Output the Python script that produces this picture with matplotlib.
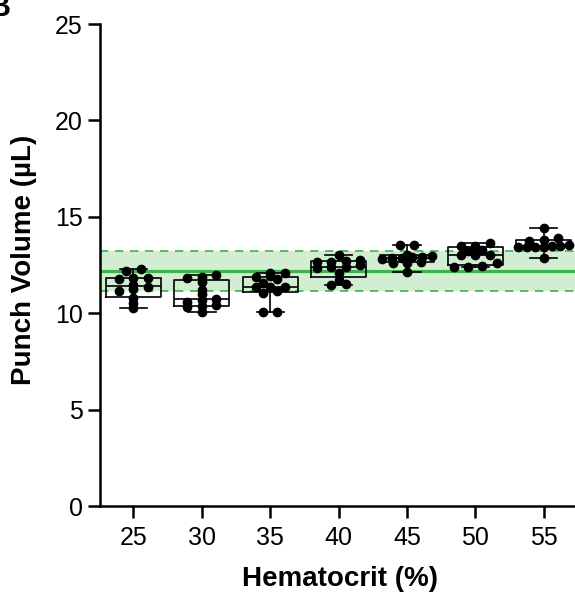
import numpy as np
import matplotlib
matplotlib.use("Agg")
import matplotlib.pyplot as plt

plt.rcParams['font.family'] = ['Liberation Sans', 'DejaVu Sans']

# punch volume (uL) per hematocrit level
hematocrit = ['25', '30', '35', '40', '45', '50', '55']
hct_25 = [12.20, 12.28, 11.84, 11.77, 11.84, 11.46, 11.34, 11.24, 11.15, 10.77, 10.51, 10.27]
hct_30 = [11.98, 11.89, 11.85, 11.64, 11.18, 10.97, 10.74, 10.71, 10.58, 10.40, 10.35, 10.30, 10.08]
hct_35 = [12.11, 12.07, 11.91, 11.89, 11.75, 11.57, 11.36, 11.36, 11.36, 11.14, 11.03, 10.05, 10.05]
hct_40 = [13.02, 12.76, 12.72, 12.67, 12.67, 12.50, 12.41, 12.41, 12.33, 12.07, 11.72, 11.50, 11.46]
hct_45 = [13.54, 13.54, 13.02, 12.97, 12.93, 12.93, 12.85, 12.85, 12.80, 12.67, 12.59, 12.59, 12.15]
hct_50 = [13.66, 13.49, 13.49, 13.28, 13.24, 13.02, 13.02, 13.02, 12.59, 12.45, 12.41, 12.41]
hct_55 = [14.43, 13.92, 13.80, 13.74, 13.54, 13.50, 13.50, 13.45, 13.45, 13.45, 13.45, 12.85]
groups = [hct_25, hct_30, hct_35, hct_40, hct_45, hct_50, hct_55]

# reference volume (mean +/- range) shown as the green band
ref_mean = 12.19
ref_low = 11.15
ref_high = 13.23

GREEN = '#3cb44b'
BAND = '#d2eed2'


def swarm_offsets(values, gap=0.2, step=0.21, max_width=0.74):
    """spread points of similar value sideways, a bit like prism does"""
    values = np.asarray(values)
    order = np.argsort(values)
    vals = values[order]
    offs = np.zeros(len(vals))
    start = 0
    while start < len(vals):
        end = start
        while end + 1 < len(vals) and vals[end + 1] - vals[start] < gap:
            end += 1
        n = end - start + 1
        s = step if n < 2 else min(step, max_width / (n - 1))
        offs[start:end + 1] = (np.arange(n) - (n - 1) / 2) * s
        start = end + 1
    out = np.zeros(len(vals))
    out[order] = offs
    return out


fig = plt.figure(figsize=(5.75, 5.95), dpi=100)
ax = fig.add_axes([100 / 575, 1 - 506 / 595, 475 / 575, 482 / 595])

ax.axhspan(ref_low, ref_high, color=BAND, lw=0, zorder=0)
ax.axhline(ref_mean, color=GREEN, lw=2.3, zorder=1)
ax.axhline(ref_low, color=GREEN, lw=1.2, ls=(0, (5, 4)), zorder=1)
ax.axhline(ref_high, color=GREEN, lw=1.2, ls=(0, (5, 4)), zorder=1)

stats = []
for vals in groups:
    q1, med, q3 = np.percentile(vals, [25, 50, 75], method='weibull')
    stats.append({'med': med, 'q1': q1, 'q3': q3,
                  'whislo': min(vals), 'whishi': max(vals), 'fliers': []})

line = dict(color='black', lw=1.2)
ax.bxp(stats, positions=range(len(groups)), widths=0.8, capwidths=0.4,
       showfliers=False, boxprops=line, whiskerprops=line, capprops=line,
       medianprops=line, zorder=2)

for i, vals in enumerate(groups):
    x = i + swarm_offsets(vals)
    ax.plot(x, vals, 'o', color='black', ms=6, zorder=3)

ax.set_xlim(-0.49, 6.46)
ax.set_ylim(0, 25)
ax.set_xticks(range(len(hematocrit)))
ax.set_xticklabels(hematocrit)
ax.set_yticks([0, 5, 10, 15, 20, 25])

for side in ['top', 'right']:
    ax.spines[side].set_visible(False)
for side in ['left', 'bottom']:
    ax.spines[side].set_linewidth(1.8)
ax.tick_params(axis='both', length=8.5, width=1.8, labelsize=18, colors='black')
ax.tick_params(axis='x', pad=6)
ax.tick_params(axis='y', pad=4)

ax.set_xlabel('Hematocrit (%)', fontsize=20, fontweight='bold')
ax.set_ylabel('Punch Volume (µL)', fontsize=20, fontweight='bold')
ax.yaxis.set_label_coords(-0.133, 0.51)
ax.xaxis.set_label_coords(0.505, -0.125)

# panel letter, cut off at the top left like in the source figure
fig.text(0.0, 1.012, 'B', ha='center', va='top', fontsize=22, fontweight='bold')

fig.savefig('out.png', dpi=100)
